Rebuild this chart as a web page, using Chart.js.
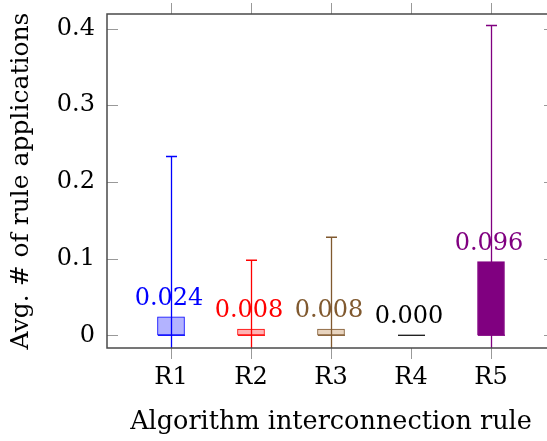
<!DOCTYPE html>
<html><head><meta charset="utf-8">
<script src="https://cdn.jsdelivr.net/npm/chart.js@4/dist/chart.umd.min.js"></script>
<style>html,body{margin:0;padding:0;overflow:hidden;background:#fff;width:547px;height:441px}canvas{display:block}</style>
</head><body>
<canvas id="c" width="560" height="441"></canvas>
<script>
// ---- data ----
const categories = ['R1', 'R2', 'R3', 'R4', 'R5'];
const boxLow = [0, 0, 0, 0, 0];
const medians = [0, 0, 0, 0, 0];
const boxHigh = [0.024, 0.008, 0.008, 0.000, 0.096];
const whiskerHigh = [0.233, 0.098, 0.128, 0.000, 0.404];
const whiskerLow = [-0.03, -0.03, -0.03, 0.000, -0.03];
const valueLabels = ['0.024', '0.008', '0.008', '0.000', '0.096'];
const yTicks = [0, 0.1, 0.2, 0.3, 0.4];

// ---- style ----
const strokeColors = ['#0000ff', '#ff0000', '#80592f', '#000000', '#800080'];
const fillColors = ['#b3b3ff', '#ffb3b3', '#e8d4bf', '#b3b3b3', '#800080'];
const FONT = 'DejaVu Serif';

const zeroPad = s => { s.paddingTop = 0; s.paddingBottom = 0; s.paddingLeft = 0; s.paddingRight = 0; };

const boxPlugin = {
  id: 'boxExtras',
  afterDatasetsDraw(chart) {
    const {ctx, chartArea: a, scales: {x, y}} = chart;
    ctx.save();
    ctx.beginPath();
    ctx.rect(a.left, a.top, a.right - a.left, a.bottom - a.top);
    ctx.clip();
    categories.forEach((c, i) => {
      const px = Math.round(x.getPixelForValue(i + 1)) + 0.5;
      const yh = y.getPixelForValue(whiskerHigh[i]);
      const yl = y.getPixelForValue(whiskerLow[i]);
      ctx.strokeStyle = strokeColors[i];
      ctx.lineWidth = 1.3;
      if (whiskerHigh[i] !== whiskerLow[i]) {
        ctx.beginPath();
        ctx.moveTo(px, yl); ctx.lineTo(px, yh);
        ctx.stroke();
        ctx.lineWidth = 1.5;
        ctx.beginPath();
        ctx.moveTo(px - 5.5, yh); ctx.lineTo(px + 5.5, yh);
        ctx.moveTo(px - 5.5, yl); ctx.lineTo(px + 5.5, yl);
        ctx.stroke();
      }
      const ym = y.getPixelForValue(medians[i]);
      ctx.lineWidth = 1.2;
      ctx.beginPath();
      ctx.moveTo(px - 13.5, ym); ctx.lineTo(px + 13.5, ym);
      ctx.stroke();
    });
    ctx.restore();
    ctx.save();
    ctx.font = '24px "' + FONT + '"';
    ctx.textAlign = 'center';
    ctx.textBaseline = 'alphabetic';
    categories.forEach((c, i) => {
      const px = x.getPixelForValue(i + 1) - 2;
      const py = y.getPixelForValue(boxHigh[i]) - 12;
      ctx.fillStyle = strokeColors[i];
      ctx.fillText(valueLabels[i], px, py);
    });
    ctx.restore();
  },
  afterDraw(chart) {
    const {ctx, chartArea: a, scales: {x, y}} = chart;
    ctx.save();
    ctx.strokeStyle = '#999999';
    ctx.lineWidth = 1;
    ctx.beginPath();
    x.ticks.forEach(t => {
      const px = Math.round(x.getPixelForValue(t.value)) + 0.5;
      ctx.moveTo(px, a.bottom); ctx.lineTo(px, a.bottom + 11);
      ctx.moveTo(px, a.top); ctx.lineTo(px, a.top - 11);
    });
    y.ticks.forEach(t => {
      const py = Math.round(y.getPixelForValue(t.value)) + 0.5;
      ctx.moveTo(a.left, py); ctx.lineTo(a.left + 11, py);
      ctx.moveTo(a.right, py); ctx.lineTo(a.right - 11, py);
    });
    ctx.stroke();
    ctx.strokeStyle = '#4a4a4a';
    ctx.lineWidth = 1.5;
    ctx.strokeRect(a.left, a.top, a.right - a.left, a.bottom - a.top);
    ctx.restore();
  }
};

new Chart(document.getElementById('c'), {
  type: 'bar',
  data: {
    datasets: [{
      data: categories.map((c, i) => ({x: i + 1, y: [boxLow[i], boxHigh[i]]})),
      backgroundColor: fillColors,
      borderColor: strokeColors,
      borderWidth: 1,
      borderSkipped: false,
      barThickness: 27
    }]
  },
  options: {
    responsive: false,
    animation: false,
    devicePixelRatio: 1,
    layout: {padding: {left: 0, top: 14, right: 5, bottom: 0}},
    plugins: {legend: {display: false}, tooltip: {enabled: false}},
    scales: {
      x: {
        type: 'linear',
        offset: false,
        min: 0.2, max: 5.8,
        grid: {display: false, drawTicks: false, offset: false},
        border: {display: false},
        afterBuildTicks: s => { s.ticks = categories.map((c, i) => ({value: i + 1})); },
        afterFit: s => { s.height = 93; zeroPad(s); },
        ticks: {
          callback: v => categories[v - 1],
          font: {family: FONT, size: 24},
          color: '#000',
          padding: 15,
          maxRotation: 0
        },
        title: {
          display: true,
          text: 'Algorithm interconnection rule',
          font: {family: FONT, size: 25.5},
          color: '#000',
          padding: {top: 0, bottom: 3}
        }
      },
      y: {
        type: 'linear',
        min: -0.0166, max: 0.419,
        grid: {display: false, drawTicks: false},
        border: {display: false},
        afterBuildTicks: s => { s.ticks = yTicks.map(v => ({value: v})); },
        afterFit: s => { s.width = 107; zeroPad(s); },
        ticks: {
          callback: v => String(v),
          font: {family: FONT, size: 24},
          color: '#000',
          padding: 12
        },
        title: {
          display: true,
          text: 'Avg. # of rule applications',
          font: {family: FONT, size: 25},
          color: '#000',
          padding: {top: 6, bottom: 0}
        }
      }
    }
  },
  plugins: [boxPlugin]
});
</script>
</body></html>
